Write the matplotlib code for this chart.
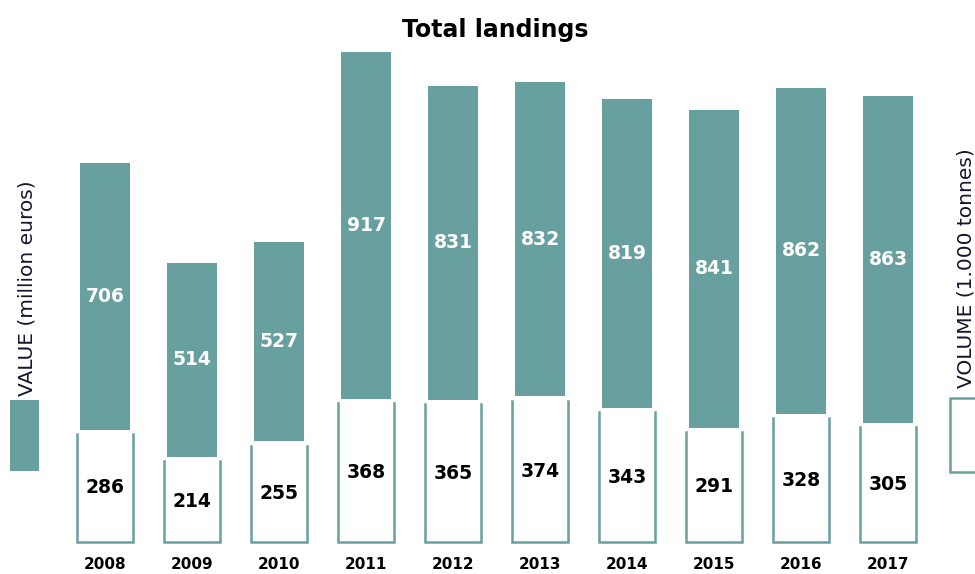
import matplotlib.pyplot as plt
import numpy as np
from matplotlib.patches import Rectangle

plt.rcParams['font.family'] = ['DejaVu Sans']

years = ['2008', '2009', '2010', '2011', '2012', '2013', '2014', '2015', '2016', '2017']
value = [706, 514, 527, 917, 831, 832, 819, 841, 862, 863]      # million euros
volume = [286, 214, 255, 368, 365, 374, 343, 291, 328, 305]     # 1.000 tonnes

teal = '#68a09f'
gap = 11

fig = plt.figure(figsize=(9.75, 5.74), dpi=100)
ax = fig.add_axes([0, 0, 1, 1])
ax.set_xlim(-1.207, 10.0)
ax.set_ylim(-84.7, 1434)
ax.axis('off')

x = np.arange(len(years))
vol = np.array(volume)
val = np.array(value)

# volume bars: white with open-top teal outline
w2 = 0.64
ax.bar(x, vol, w2, color='white', edgecolor='none')
for xi, v in zip(x, vol):
    ax.plot([xi - w2/2, xi - w2/2, xi + w2/2, xi + w2/2], [v, 0, 0, v],
            color=teal, lw=1.8, solid_joinstyle='miter')

# value bars stacked on top
w1 = 0.585
ax.bar(x, val, w1, bottom=vol + gap, color=teal, edgecolor='none')

for xi, v, vv in zip(x, vol, val):
    ax.text(xi, v/2, str(v), ha='center', va='center', fontsize=13.5,
            fontweight='bold', color='black')
    ax.text(xi, v + gap + vv/2, str(vv), ha='center', va='center', fontsize=13.5,
            fontweight='bold', color='white')
    ax.text(xi, -60, years[xi], ha='center', va='center', fontsize=11,
            fontweight='bold', color='black')

fig.text(0.508, 0.947, 'Total landings', ha='center', va='center',
         fontsize=17, fontweight='bold')

# legend keys
fig.patches.append(Rectangle((10/975, 1 - 471/574), 29/975, 71/574,
                             transform=fig.transFigure, facecolor=teal,
                             edgecolor='none'))
fig.text(27/975, 1 - 288/574, 'VALUE (million euros)', rotation=90,
         ha='center', va='center', fontsize=14.5, color='#15152e')
fig.patches.append(Rectangle((950/975, 1 - 472/574), 40/975, 74/574,
                             transform=fig.transFigure, facecolor='white',
                             edgecolor=teal, lw=1.8))
fig.text(966/975, 1 - 268/574, 'VOLUME (1.000 tonnes)', rotation=90,
         ha='center', va='center', fontsize=14.5, color='#15152e')

fig.savefig('out.png', dpi=100)
